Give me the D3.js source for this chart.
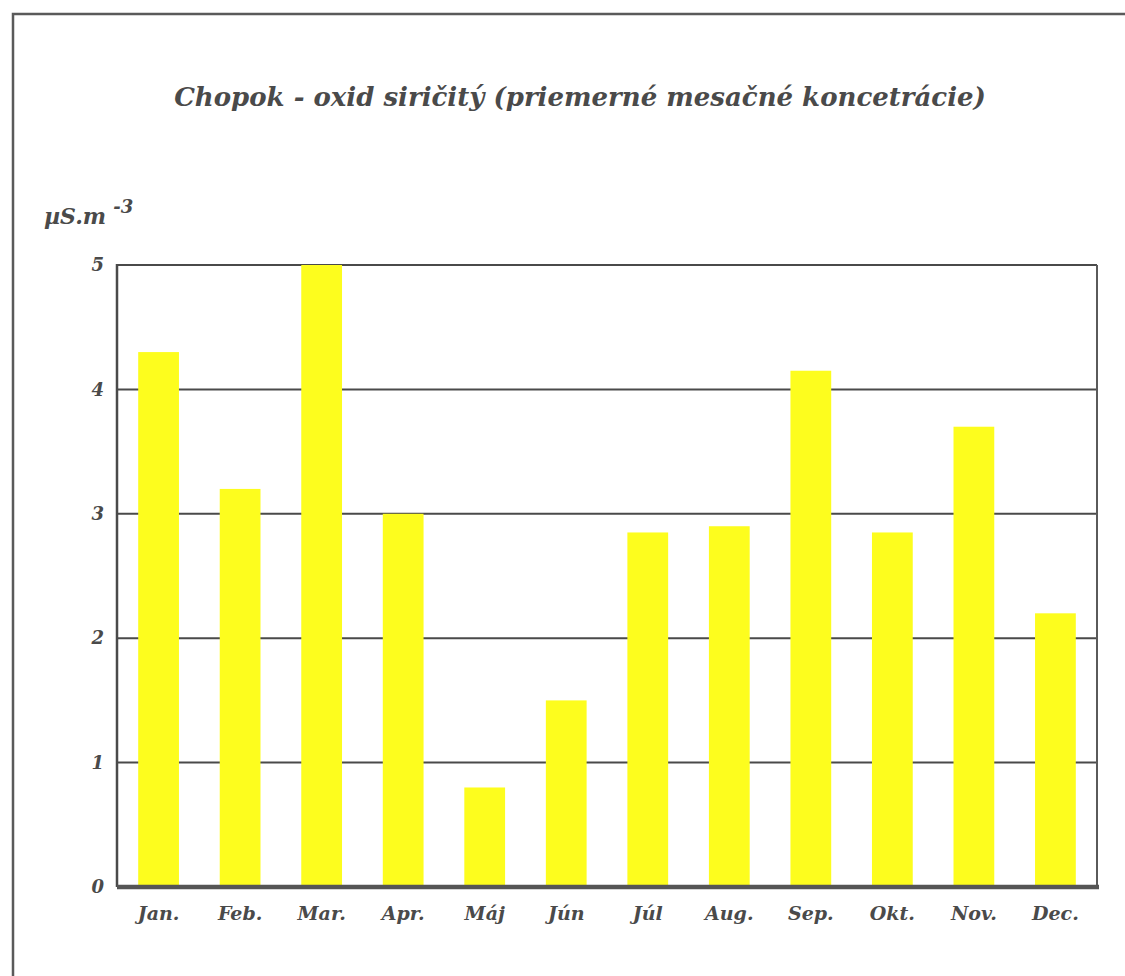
<!DOCTYPE html>
<html>
<head>
<meta charset="utf-8">
<script src="https://cdn.jsdelivr.net/npm/d3@7"></script>
<style>
  html, body { margin: 0; padding: 0; background: #fff; }
  svg { display: block; }
  text { font-family: "DejaVu Serif", "Liberation Serif", serif; font-style: italic; font-weight: bold; fill: #4a4a4a; }
</style>
</head>
<body>
<svg id="chart" width="1125" height="976"></svg>
<script>
// Average monthly SO2 concentrations at Chopok
const months = ["Jan.", "Feb.", "Mar.", "Apr.", "Máj", "Jún", "Júl", "Aug.", "Sep.", "Okt.", "Nov.", "Dec."];
const values = [4.3, 3.2, 5.0, 3.0, 0.8, 1.5, 2.85, 2.9, 4.15, 2.85, 3.7, 2.2];
const yTicks = [0, 1, 2, 3, 4, 5];
const title = "Chopok - oxid siričitý (priemerné mesačné koncetrácie)";
const unitLabel = "µS.m";
const unitExp = "-3";

const svg = d3.select("#chart");
const margin = { left: 117, right: 28, top: 265, bottom: 89 };
const W = 1125, H = 976;

// Outer frame (left and top edges)
svg.append("path")
  .attr("d", `M13,976 L13,14 L1125,14`)
  .attr("fill", "none")
  .attr("stroke", "#5a5a5a")
  .attr("stroke-width", 2.5);

svg.append("text")
  .attr("x", 580).attr("y", 106)
  .attr("text-anchor", "middle")
  .style("font-size", "26px")
  .attr("fill", "#505050")
  .text(title);

const x = d3.scaleBand()
  .domain(months)
  .range([margin.left, W - margin.right])
  .paddingInner(0.5)
  .paddingOuter(0.26);

const y = d3.scaleLinear()
  .domain([0, 5])
  .range([H - margin.bottom, margin.top]);

// Horizontal gridlines
svg.append("g")
  .selectAll("line")
  .data(yTicks.filter(d => d > 0))
  .join("line")
  .attr("x1", margin.left).attr("x2", W - margin.right)
  .attr("y1", d => y(d)).attr("y2", d => y(d))
  .attr("stroke", "#4a4a4a")
  .attr("stroke-width", 2);

// Right edge of plot
svg.append("line")
  .attr("x1", W - margin.right).attr("x2", W - margin.right)
  .attr("y1", y(5)).attr("y2", y(0))
  .attr("stroke", "#5a5a5a").attr("stroke-width", 2);

// Bars
svg.append("g")
  .selectAll("rect")
  .data(values)
  .join("rect")
  .attr("x", (d, i) => x(months[i]))
  .attr("width", x.bandwidth())
  .attr("y", d => y(d))
  .attr("height", d => y(0) - y(d))
  .attr("fill", "#fdfd1e");

// Left axis line
svg.append("line")
  .attr("x1", margin.left).attr("x2", margin.left)
  .attr("y1", y(5) - 1).attr("y2", y(0))
  .attr("stroke", "#4a4a4a").attr("stroke-width", 2.5);

// Baseline (zero)
svg.append("line")
  .attr("x1", margin.left).attr("x2", W - margin.right + 2)
  .attr("y1", y(0)).attr("y2", y(0))
  .attr("stroke", "#555").attr("stroke-width", 4.5);

// Y axis tick labels
const yAxis = d3.axisLeft(y).tickValues(yTicks).tickSize(0).tickPadding(13).tickFormat(d3.format("d"));
const gy = svg.append("g").attr("transform", `translate(${margin.left},0)`).call(yAxis);
gy.select(".domain").remove();
gy.selectAll("text")
  .attr("fill", "#4a4a4a")
  .style("font-size", "18px")
  .style("font-family", "\"DejaVu Serif\", serif");

// X axis labels
const xAxis = d3.axisBottom(x).tickSize(0).tickPadding(20);
const gx = svg.append("g").attr("transform", `translate(0,${y(0)})`).call(xAxis);
gx.select(".domain").remove();
gx.selectAll("text")
  .attr("fill", "#4a4a4a")
  .style("font-size", "19px")
  .style("font-family", "\"DejaVu Serif\", serif");

// Unit label
const unit = svg.append("text").attr("x", 44).attr("y", 224).style("font-size", "22px");
unit.append("tspan").text(unitLabel);
unit.append("tspan").attr("dx", 7).attr("dy", -11).style("font-size", "18px").text(unitExp);
</script>
</body>
</html>
